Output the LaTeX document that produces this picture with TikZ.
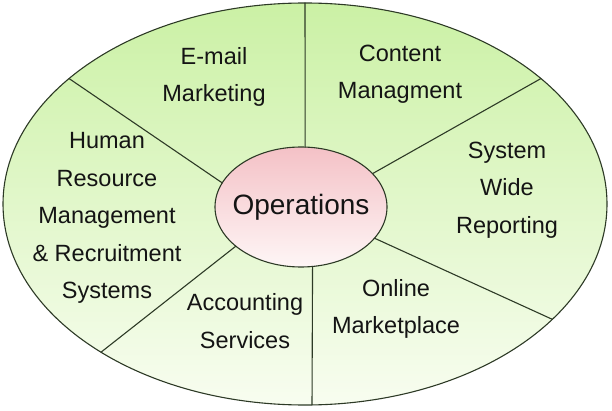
\documentclass[tikz,border=0pt]{standalone}
\usepackage{fontspec}
\setmainfont{Liberation Sans}
\usetikzlibrary{shapes.geometric}

\begin{document}
\begin{tikzpicture}[x=1pt,y=-1pt,
  ring/.style={ellipse,draw=lineColor,line width=1.1pt,inner sep=0pt,outer sep=0pt,
    top color=ringTop,bottom color=ringBottom},
  hub/.style={ellipse,draw=lineColor,line width=1.1pt,inner sep=0pt,outer sep=0pt,
    top color=hubTop,bottom color=hubBottom},
  divider/.style={draw=lineColor,line width=1.1pt,line cap=round},
  sector/.style={text=textColor,align=center,inner sep=0pt,outer sep=0pt,
    font=\fontsize{23.5}{37.5}\selectfont}]
\definecolor{lineColor}{RGB}{45,58,38}
\definecolor{textColor}{RGB}{20,20,20}
\definecolor{ringTop}{RGB}{203,241,165}
\definecolor{ringBottom}{RGB}{248,253,240}
\definecolor{hubTop}{RGB}{244,193,198}
\definecolor{hubBottom}{RGB}{254,246,246}
\path[use as bounding box] (0,0) rectangle (612,411);

\node[ring,minimum width=604pt,minimum height=402pt] (ring) at (305,204) {};
\node[hub,minimum width=172pt,minimum height=120pt] (ops) at (301,207) {};

\path[divider] (ops.86) -- (ring.90);
\path[divider] (ops.25.3) -- (ring.28.8);
\path[divider] (ops.-23) -- (ring.-25.4);
\path[divider] (ops.-79) -- (ring.-88);
\path[divider] (ops.211.8) -- (ring.216.5);
\path[divider] (ops.163.5) -- (ring.152);

\node[text=textColor,inner sep=0pt,font=\fontsize{28}{34}\selectfont] (opsText) at (ops.center) {Operations};

\node[sector] (email) at (214,77) {E-mail\\Marketing};
\node[sector] (content) at (400,74) {Content\\Managment};
\node[sector] (reporting) at (507,190) {System\\Wide\\Reporting};
\node[sector] (market) at (396,309) {Online\\Marketplace};
\node[sector] (accounting) at (245,321) {Accounting\\Services};
\node[sector] (hr) at (107,218) {Human\\Resource\\Management\\\& Recruitment\\Systems};
\end{tikzpicture}
\end{document}
